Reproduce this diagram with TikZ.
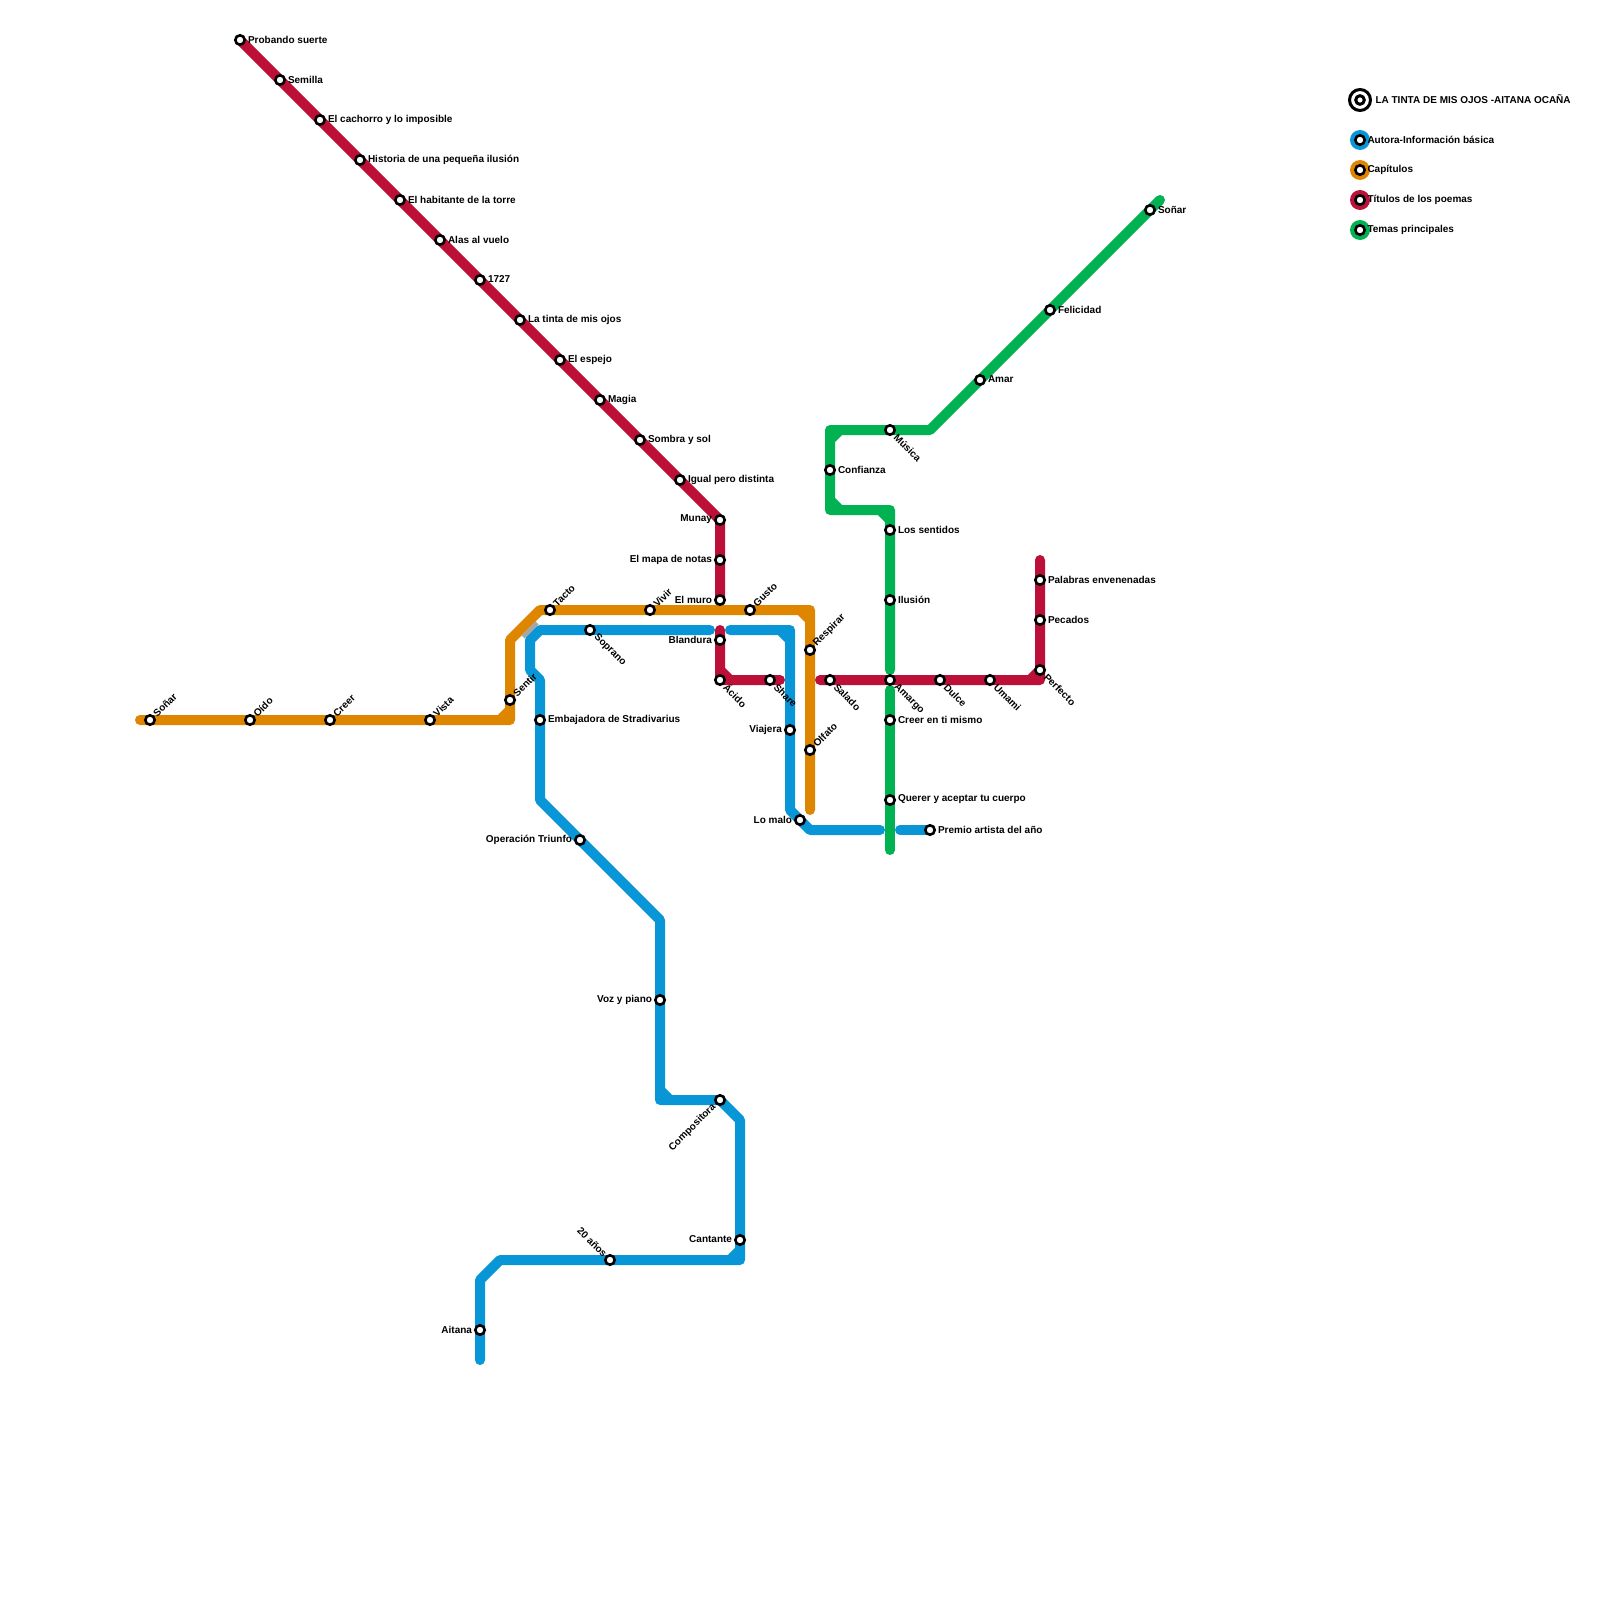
\documentclass[tikz,border=0pt]{standalone}
\usepackage{fontspec}
\setmainfont{Liberation Sans}
\usetikzlibrary{backgrounds}
\definecolor{lblue}{HTML}{0896D7}
\definecolor{lorange}{HTML}{DF8600}
\definecolor{lred}{HTML}{BD1038}
\definecolor{lgreen}{HTML}{00B251}
\tikzset{
  stn/.style={circle,draw=black,fill=white,line width=2.6pt,minimum size=9.4pt,inner sep=0pt,outer sep=0pt},
  disc/.style={circle,minimum size=20pt,inner sep=0pt,outer sep=0pt},
  metro/.style={line width=10pt,line cap=round,line join=round},
  lbl/.style={inner sep=0pt,outer sep=0pt,font=\fontsize{10}{12}\selectfont\bfseries,text=black},
  lR/.style={lbl,anchor=west,xshift=8pt,yshift=0.5pt},
  lL/.style={lbl,anchor=east,xshift=-8pt,yshift=0.5pt},
  lUR/.style={lbl,anchor=west,rotate=45,xshift=7pt},
  lDR/.style={lbl,anchor=west,rotate=-45,xshift=8pt},
  lUL/.style={lbl,anchor=east,rotate=45,xshift=-8pt},
  lDL/.style={lbl,anchor=east,rotate=-45,xshift=-6.5pt},
}
\newcommand{\st}[5]{\node[stn] (#1) at (#2,#3) {}; \node[#4] (t#1) at (#1.center) {#5};}
\begin{document}
\begin{tikzpicture}[x=1pt,y=-1pt]
\useasboundingbox (0,0) rectangle (1600,1600);
% red stations
\st{r1}{240}{40}{lR}{Probando suerte}
\st{r2}{280}{80}{lR}{Semilla}
\st{r3}{320}{120}{lR}{El cachorro y lo imposible}
\st{r4}{360}{160}{lR}{Historia de una pequeña ilusión}
\st{r5}{400}{200}{lR}{El habitante de la torre}
\st{r6}{440}{240}{lR}{Alas al vuelo}
\st{r7}{480}{280}{lR}{1727}
\st{r8}{520}{320}{lR}{La tinta de mis ojos}
\st{r9}{560}{360}{lR}{El espejo}
\st{r10}{600}{400}{lR}{Magia}
\st{r11}{640}{440}{lR}{Sombra y sol}
\st{r12}{680}{480}{lR}{Igual pero distinta}
\st{r13}{720}{520}{lL}{Munay}
\st{r14}{720}{560}{lL}{El mapa de notas}
\st{r15}{720}{600}{lL}{El muro}
\st{r16}{720}{640}{lL}{Blandura}
\st{r17}{720}{680}{lDR}{Ácido}
\st{r18}{770}{680}{lDR}{Share}
\st{r19}{830}{680}{lDR}{Salado}
\st{r20}{890}{680}{lDR}{Amargo}
\st{r21}{940}{680}{lDR}{Dulce}
\st{r22}{990}{680}{lDR}{Umami}
\st{r23}{1040}{670}{lDR}{Perfecto}
\st{r24}{1040}{620}{lR}{Pecados}
\st{r25}{1040}{580}{lR}{Palabras envenenadas}
% orange stations
\st{o1}{150}{720}{lUR}{Soñar}
\st{o2}{250}{720}{lUR}{Oído}
\st{o3}{330}{720}{lUR}{Creer}
\st{o4}{430}{720}{lUR}{Vista}
\st{o5}{510}{700}{lUR}{Sentir}
\st{o6}{550}{610}{lUR}{Tacto}
\st{o7}{650}{610}{lUR}{Vivir}
\st{o8}{750}{610}{lUR}{Gusto}
\st{o9}{810}{650}{lUR}{Respirar}
\st{o10}{810}{750}{lUR}{Olfato}
% blue stations
\st{b1}{480}{1330}{lL}{Aitana}
\st{b2}{610}{1260}{lDL}{20 años}
\st{b3}{740}{1240}{lL}{Cantante}
\st{b4}{720}{1100}{lUL}{Compositora}
\st{b5}{660}{1000}{lL}{Voz y piano}
\st{b6}{580}{840}{lL}{Operación Triunfo}
\st{b7}{540}{720}{lR}{Embajadora de Stradivarius}
\st{b8}{590}{630}{lDR}{Soprano}
\st{b9}{790}{730}{lL}{Viajera}
\st{b10}{800}{820}{lL}{Lo malo}
\st{b11}{930}{830}{lR}{Premio artista del año}
% green stations
\st{g1}{1150}{210}{lR}{Soñar}
\st{g2}{1050}{310}{lR}{Felicidad}
\st{g3}{980}{380}{lR}{Amar}
\st{g4}{890}{430}{lDR}{Música}
\st{g5}{830}{470}{lR}{Confianza}
\st{g6}{890}{530}{lR}{Los sentidos}
\st{g7}{890}{600}{lR}{Ilusión}
\st{g8}{890}{720}{lR}{Creer en ti mismo}
\st{g9}{890}{800}{lR}{Querer y aceptar tu cuerpo}
% way-points
\foreach \n/\x/\y in {
 rA/720/630, rB/720/670, rC/730/680, rD/720/680, rE/780/680,
 rF/820/680, rG/1040/680, rH/1030/680, rI/1040/560,
 oA/140/720, oB/510/720, oC/500/720, oD/510/710, oE/510/640, oF/540/610,
 oG/810/610, oH/800/610, oI/810/620, oJ/810/810,
 bA/480/1360, bB/480/1280, bC/500/1260, bD/740/1260, bE/730/1260, bF/740/1250,
 bG/740/1120, bH/660/1100, bI/670/1100, bJ/660/1090, bK/660/920, bL/540/800,
 bM/540/680, bN/530/670, bO/530/640, bP/540/630, bQ/710/630,
 bR/730/630, bS/790/630, bT/780/630, bU/790/640, bV/790/810, bW/810/830, bX/880/830, bY/900/830,
 gA/1160/200, gB/930/430, gC/830/430, gD/840/430, gE/830/440, gF/830/510, gG/830/500, gH/840/510,
 gI/890/510, gJ/880/510, gK/890/520, gL/890/670, gM/890/690, gN/890/850,
 xA/523/637, xB/537/623}
 {\coordinate (\n) at (\x,\y);}
% legend
\node[stn,minimum size=21pt,line width=3pt] (lgo) at (1360,100) {};
\node[stn,line width=3pt,minimum size=8.6pt] (lgi) at (1360,100) {};
\node[lbl,anchor=west] (lgt) at (1375.5,98.8) {LA TINTA DE MIS OJOS -AITANA OCAÑA};
\foreach \n/\c/\y/\t in {a/lblue/140/Autora-Información básica, b/lorange/170/Capítulos, c/lred/200/Títulos de los poemas, d/lgreen/230/Temas principales}{
  \node[stn] (lg\n) at (1360,\y) {};
  \begin{scope}[on background layer]
    \node[disc,fill=\c] (ld\n) at (1360,\y) {};
  \end{scope}
  \node[lbl,anchor=west] (lt\n) at (1367.5,\y-0.5) {\t};
}
\begin{scope}[on background layer]
  % blue
  \draw[metro,lblue] (bA) -- (b1.center) -- (bB) -- (bC) -- (b2.center) -- (bD) -- (b3.center) -- (bG) -- (b4.center) -- (bH) -- (b5.center) -- (bK) -- (b6.center) -- (bL) -- (b7.center) -- (bM) -- (bN) -- (bO) -- (bP) -- (b8.center) -- (bQ)
     (bE) -- (bF) (bJ) -- (bI);
  \draw[metro,lblue] (bR) -- (bS) -- (b9.center) -- (bV) -- (b10.center) -- (bW) -- (bX) (bT) -- (bU);
  \draw[metro,lblue] (bY) -- (b11.center);
  % orange
  \draw[metro,lorange] (oA) -- (o1.center) -- (o2.center) -- (o3.center) -- (o4.center) -- (oB) -- (o5.center) -- (oE) -- (oF) -- (o6.center) -- (o7.center) -- (o8.center) -- (oG) -- (o9.center) -- (o10.center) -- (oJ)
     (oC) -- (oD) (oH) -- (oI);
  % green
  \draw[metro,lgreen] (gA) -- (g1.center) -- (g2.center) -- (g3.center) -- (gB) -- (g4.center) -- (gC) -- (g5.center) -- (gF) -- (gI) -- (g6.center) -- (g7.center) -- (gL)
     (gD) -- (gE) (gG) -- (gH) (gJ) -- (gK);
  \draw[metro,lgreen] (gM) -- (g8.center) -- (g9.center) -- (gN);
  % red
  \draw[metro,lred] (r1.center) -- (r2.center) -- (r3.center) -- (r4.center) -- (r5.center) -- (r6.center) -- (r7.center) -- (r8.center) -- (r9.center) -- (r10.center) -- (r11.center) -- (r12.center) -- (r13.center) -- (r14.center) -- (r15.center);
  \draw[metro,lred] (rA) -- (r16.center) -- (r17.center) -- (r18.center) -- (rE) (rB) -- (rC);
  \draw[metro,lred] (rF) -- (r19.center) -- (r20.center) -- (r21.center) -- (r22.center) -- (rG) -- (r23.center) -- (r24.center) -- (r25.center) -- (rI) (rH) -- (r23.center);
  % grey link
  \draw[line width=4.5pt,color=black!35] (xA) -- (xB);
\end{scope}
\end{tikzpicture}
\end{document}
